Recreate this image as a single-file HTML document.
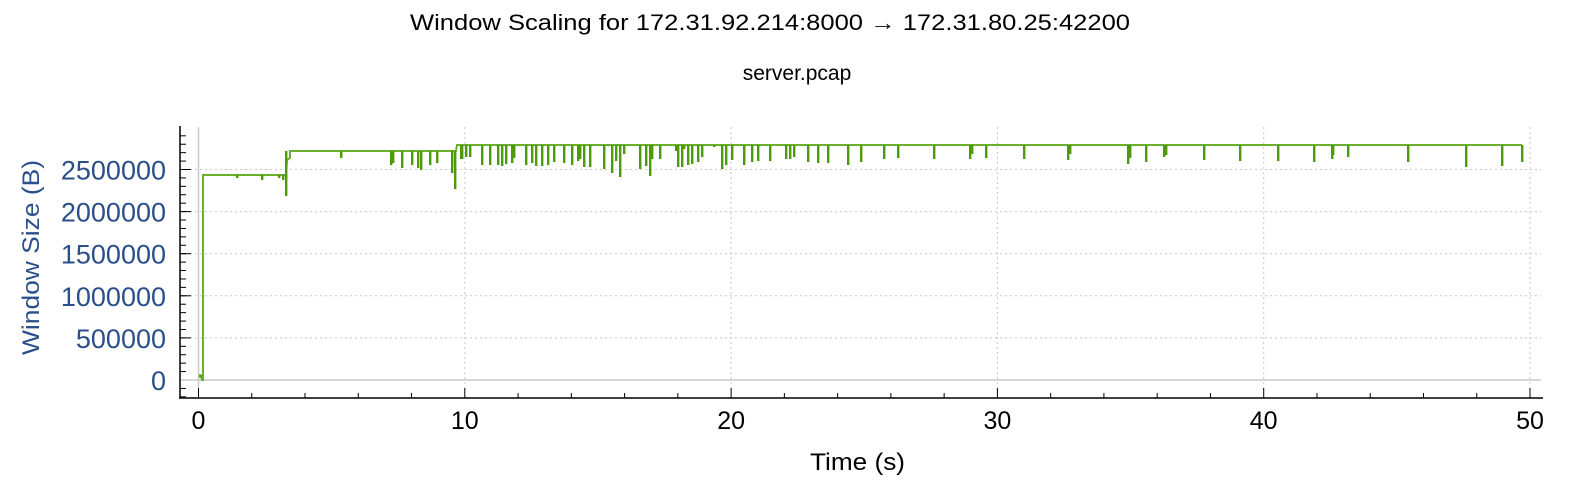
<!DOCTYPE html>
<html><head><meta charset="utf-8"><style>
html,body{margin:0;padding:0;background:#fff;}
svg{display:block;font-family:"Liberation Sans",sans-serif;}
</style></head><body>
<svg id="s" width="1572" height="480" xmlns="http://www.w3.org/2000/svg">
<text x="410" y="30" font-size="22" textLength="720" lengthAdjust="spacingAndGlyphs" fill="#000">Window Scaling for 172.31.92.214:8000 → 172.31.80.25:42200</text>
<text x="797" y="80" font-size="21" text-anchor="middle" fill="#000">server.pcap</text>
<text transform="translate(39,355) rotate(-90)" font-size="24" textLength="195" lengthAdjust="spacingAndGlyphs" fill="#2a4f8a">Window Size (B)</text>
<text x="810" y="470" font-size="24" textLength="95" lengthAdjust="spacingAndGlyphs" fill="#000">Time (s)</text>
<g id="g"></g>
</svg>
<script>
var g=document.getElementById('g'),h='';
function L(x1,y1,x2,y2,c,w,d){h+='<line x1="'+x1+'" y1="'+y1+'" x2="'+x2+'" y2="'+y2+'" stroke="'+c+'" stroke-width="'+(w||1)+'"'+(d?' stroke-dasharray="'+d+'"':'')+'/>';}
var yl=['0','500000','1000000','1500000','2000000','2500000'];
for(var i=0;i<6;i++){var y=380-i*42.1;
 if(i>0)L(180,y,1541,y,'#c8c8c8',1,'2,3');
 h+='<text x="166" y="'+(y+10)+'" font-size="27" text-anchor="end" fill="#2a4f8a">'+yl[i]+'</text>';
 L(180,y,191,y,'#000');}
for(var v=-200000;v<=2900000;v+=100000){var y=380-v*8.42e-5;if(y<127)break;L(180,y,186,y,'#000');}
L(180,380,1541,380,'#c8c8c8',1.5);
L(198.5,127,198.5,388,'#c8c8c8',1.5);
for(var t=10;t<=50;t+=10){var x=198.5+t*26.63;L(x,127,x,390,'#c8c8c8',1,'2,3');}
for(var t=0;t<=50;t+=2){var x=198.5+t*26.63;L(x,t%10?393:388,x,398,'#000');}
for(var t=0;t<=50;t+=10){var x=198.5+t*26.63;h+='<text x="'+x+'" y="429" font-size="25" text-anchor="middle" fill="#000">'+t+'</text>';}
L(180,126,180,398,'#000',1.5);L(179,398,1543,398,'#000',1.5);
var G='#4f9a0a';
h+='<path d="M199,376 L201,376 L202,380 L203,380 L203,175 L286,175 L287,160 L290,158 L290,151 L456,151 L457,145 L1522,145" fill="none" stroke="#6ab02a" stroke-width="2"/>';
L(199,376,202,376,G,3);
var dips=[[237,178],[262,180],[279,178],[283,180],[286,196],[341,158],[391,165],[393,163],[402,168],[412,165],[418,168],[421,170],[430,165],[437,163],[452,165],[452,173],[455,189],
[461,159],[462,159],[466,157],[470,157],[482,165],[490,165],[498,165],[502,166],[506,164],[512,163],[514,158],[526,165],[532,163],[536,166],[542,166],[548,165],[554,162],[564,163],[572,165],[578,161],[580,159],[584,167],[590,167],[604,169],[608,146],[612,173],[616,161],[620,177],[624,154],[640,169],[646,166],[650,176],[652,159],[660,159],[676,151],[678,167],[682,167],[684,149],[688,165],[692,164],[698,162],[702,157],[714,147],[722,169],[726,165],[732,160],[744,165],[744,163],[752,162],[758,161],[770,161],[786,159],[790,159],[794,157],[808,162],[818,163],[828,163],[848,165],
[861,162],[884,159],[898,158],[934,159],[970,159],[972,154],[986,158],[1024,159],[1068,160],[1070,154],[1128,164],[1130,158],[1146,162],[1164,157],[1166,155],[1204,160],[1240,161],[1278,161],
[1314,162],[1332,159],[1333,155],[1348,157],[1408,162],[1466,167],[1502,166],[1522,162]];
dips.forEach(function(d){var top=d[0]<286?175:(d[0]<457?151:145);h+='<rect x="'+(d[0]-1)+'" y="'+top+'" width="2.4" height="'+(d[1]-top)+'" fill="'+G+'"/>';});
g.innerHTML=h;
</script>
</body></html>
